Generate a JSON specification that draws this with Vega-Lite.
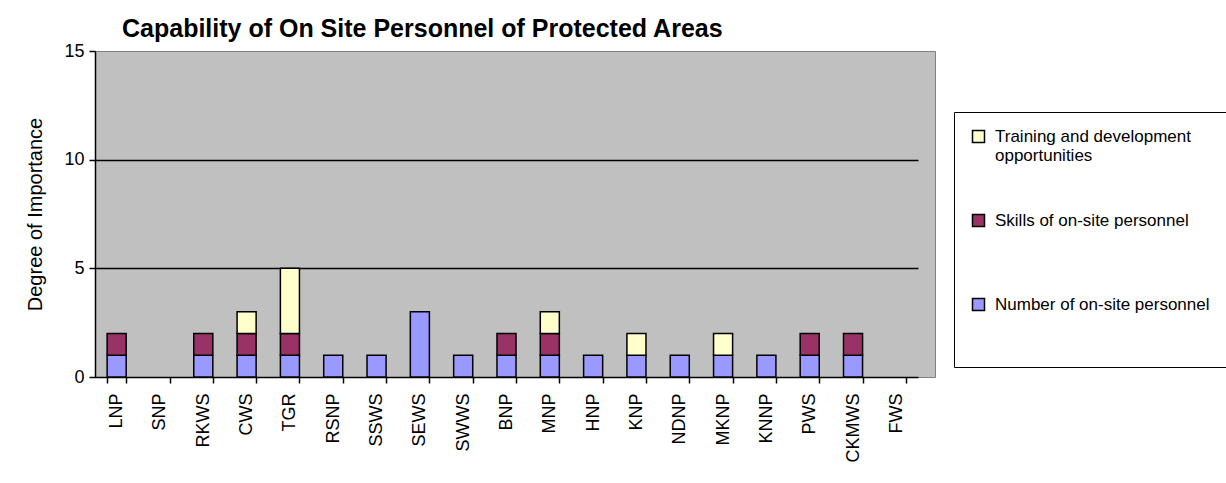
{
  "$schema": "https://vega.github.io/schema/vega-lite/v6.json",
  "autosize": "none",
  "width": 840,
  "height": 326,
  "padding": {"left": 95, "top": 51, "right": 291, "bottom": 106},
  "background": "white",
  "title": {
    "text": "Capability of On Site Personnel of Protected Areas",
    "anchor": "start",
    "frame": "group",
    "dx": 27,
    "dy": 34,
    "fontSize": 25,
    "fontWeight": "bold",
    "font": "Liberation Sans, Arial, sans-serif",
    "color": "black",
    "baseline": "alphabetic",
    "offset": 14
  },
  "config": {
    "view": {"fill": "#C0C0C0", "stroke": "#808080", "strokeWidth": 1},
    "font": "Liberation Sans, Arial, sans-serif",
    "axis": {"labelColor": "black", "titleColor": "black", "domainColor": "black", "tickColor": "black", "labelFont": "Liberation Sans, Arial, sans-serif", "titleFont": "Liberation Sans, Arial, sans-serif"},
    "legend": {"labelFont": "Liberation Sans, Arial, sans-serif"}
  },
  "data": {
    "values": [
      {"area": "LNP", "measure": "Number of on-site personnel", "ord": 1, "value": 1},
      {"area": "LNP", "measure": "Skills of on-site personnel", "ord": 2, "value": 1},
      {"area": "RKWS", "measure": "Number of on-site personnel", "ord": 1, "value": 1},
      {"area": "RKWS", "measure": "Skills of on-site personnel", "ord": 2, "value": 1},
      {"area": "CWS", "measure": "Number of on-site personnel", "ord": 1, "value": 1},
      {"area": "CWS", "measure": "Skills of on-site personnel", "ord": 2, "value": 1},
      {"area": "CWS", "measure": "Training and development opportunities", "ord": 3, "value": 1},
      {"area": "TGR", "measure": "Number of on-site personnel", "ord": 1, "value": 1},
      {"area": "TGR", "measure": "Skills of on-site personnel", "ord": 2, "value": 1},
      {"area": "TGR", "measure": "Training and development opportunities", "ord": 3, "value": 3},
      {"area": "RSNP", "measure": "Number of on-site personnel", "ord": 1, "value": 1},
      {"area": "SSWS", "measure": "Number of on-site personnel", "ord": 1, "value": 1},
      {"area": "SEWS", "measure": "Number of on-site personnel", "ord": 1, "value": 3},
      {"area": "SWWS", "measure": "Number of on-site personnel", "ord": 1, "value": 1},
      {"area": "BNP", "measure": "Number of on-site personnel", "ord": 1, "value": 1},
      {"area": "BNP", "measure": "Skills of on-site personnel", "ord": 2, "value": 1},
      {"area": "MNP", "measure": "Number of on-site personnel", "ord": 1, "value": 1},
      {"area": "MNP", "measure": "Skills of on-site personnel", "ord": 2, "value": 1},
      {"area": "MNP", "measure": "Training and development opportunities", "ord": 3, "value": 1},
      {"area": "HNP", "measure": "Number of on-site personnel", "ord": 1, "value": 1},
      {"area": "KNP", "measure": "Number of on-site personnel", "ord": 1, "value": 1},
      {"area": "KNP", "measure": "Training and development opportunities", "ord": 3, "value": 1},
      {"area": "NDNP", "measure": "Number of on-site personnel", "ord": 1, "value": 1},
      {"area": "MKNP", "measure": "Number of on-site personnel", "ord": 1, "value": 1},
      {"area": "MKNP", "measure": "Training and development opportunities", "ord": 3, "value": 1},
      {"area": "KNNP", "measure": "Number of on-site personnel", "ord": 1, "value": 1},
      {"area": "PWS", "measure": "Number of on-site personnel", "ord": 1, "value": 1},
      {"area": "PWS", "measure": "Skills of on-site personnel", "ord": 2, "value": 1},
      {"area": "CKMWS", "measure": "Number of on-site personnel", "ord": 1, "value": 1},
      {"area": "CKMWS", "measure": "Skills of on-site personnel", "ord": 2, "value": 1}
    ]
  },
  "mark": {"type": "bar", "stroke": "black", "strokeWidth": 1.5},
  "encoding": {
    "x": {
      "field": "area",
      "type": "nominal",
      "scale": {
        "domain": ["LNP", "SNP", "RKWS", "CWS", "TGR", "RSNP", "SSWS", "SEWS", "SWWS", "BNP", "MNP", "HNP", "KNP", "NDNP", "MKNP", "KNNP", "PWS", "CKMWS", "FWS"],
        "range": [0, 823],
        "paddingInner": 0.56,
        "paddingOuter": 0.28
      },
      "axis": {
        "title": null,
        "labelAngle": -90,
        "labelFontSize": 18,
        "labelPadding": 10,
        "tickBand": "extent",
        "tickSize": 6,
        "tickWidth": 1.5,
        "domainWidth": 1.5
      }
    },
    "y": {
      "field": "value",
      "type": "quantitative",
      "aggregate": "sum",
      "stack": "zero",
      "scale": {"domain": [0, 15], "nice": false},
      "axis": {
        "title": "Degree of Importance",
        "titleFontSize": 20,
        "titleFontWeight": "normal",
        "titlePadding": 18,
        "values": [0, 5, 10, 15],
        "labelFontSize": 18,
        "labelPadding": 5,
        "tickSize": 6,
        "tickWidth": 1.5,
        "domainWidth": 1.5,
        "grid": true,
        "gridWidth": 1.5,
        "gridColor": {"condition": {"test": "datum.value == 0 || datum.value == 15", "value": "transparent"}, "value": "black"}
      }
    },
    "color": {
      "field": "measure",
      "type": "nominal",
      "scale": {
        "domain": ["Training and development opportunities", "Skills of on-site personnel", "Number of on-site personnel"],
        "range": ["#FFFFCC", "#993366", "#9999FF"]
      },
      "legend": {
        "title": null,
        "orient": "none",
        "legendX": 859,
        "legendY": 61,
        "direction": "vertical",
        "strokeColor": "black",
        "fillColor": "white",
        "padding": 16,
        "symbolType": "square",
        "symbolSize": 144,
        "symbolStrokeColor": "black",
        "symbolStrokeWidth": 1.5,
        "symbolOpacity": 1,
        "labelFontSize": 17,
        "labelColor": "black",
        "labelOffset": 8,
        "labelLimit": 400,
        "rowPadding": 47,
        "labelExpr": "datum.label == 'Training and development opportunities' ? ['Training and development', 'opportunities'] : (datum.label == 'Skills of on-site personnel' ? [datum.label, ''] : [datum.label, '', ''])"
      }
    },
    "order": {"field": "ord", "type": "quantitative", "sort": "ascending"}
  }
}
